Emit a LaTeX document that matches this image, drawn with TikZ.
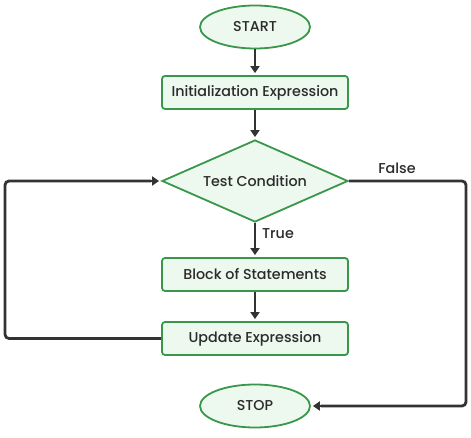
\documentclass[tikz,border=0pt]{standalone}
\usepackage{fontspec}
\setmainfont{Poppins Medium}
\usetikzlibrary{shapes.geometric,arrows.meta}
\definecolor{gborder}{HTML}{38974A}
\definecolor{gfill}{HTML}{EDF8EE}
\definecolor{arr}{HTML}{333333}
\definecolor{txt}{HTML}{2B2B2B}
\tikzset{
  lblfont/.style={font=\fontsize{14.3}{17}\selectfont},
  term/.style={ellipse,draw=gborder,fill=gfill,line width=1.8pt,minimum width=110pt,minimum height=43pt,inner sep=0pt,text=txt,lblfont},
  proc/.style={rectangle,rounded corners=3pt,draw=gborder,fill=gfill,line width=1.8pt,minimum width=186pt,minimum height=33pt,inner sep=0pt,text=txt,lblfont},
  dec/.style={diamond,aspect=2.27,draw=gborder,fill=gfill,line width=1.8pt,minimum width=186pt,minimum height=82pt,inner sep=0pt,text=txt,lblfont},
  conn/.style={draw=arr,line width=2.8pt,shorten >=2pt,-{Triangle[length=7pt,width=9pt]}},
  plain/.style={draw=arr,line width=2.8pt,rounded corners=4pt},
  lbl/.style={text=txt,lblfont}
}
\begin{document}
\begin{tikzpicture}[x=1pt,y=-1pt]
\useasboundingbox (0,0) rectangle (471,438);
\node[term] (start) at (255,27) {START};
\node[proc] (init) at (255,92.5) {Initialization Expression};
\node[dec] (test) at (255,181) {Test Condition};
\node[proc] (block) at (255,274.5) {Block of Statements};
\node[proc] (upd) at (255,338.5) {Update Expression};
\node[term] (stop) at (255,406) {STOP};
\coordinate (lt) at (5,181);
\coordinate (lb) at (5,338.5);
\coordinate (rt) at (466,181);
\coordinate (rb) at (466,406);
\draw[conn] (start) -- (init);
\draw[conn] (init) -- (test);
\draw[conn] (test) -- (block);
\draw[conn] (block) -- (upd);
\draw[plain] (upd.west) -- (lb) -- (lt) -- ([xshift=-10pt]test.west);
\draw[conn] ([xshift=-14pt]test.west) -- (test.west);
\draw[plain] (test.east) -- (rt) -- (rb) -- ([xshift=10pt]stop.east);
\draw[conn] ([xshift=14pt]stop.east) -- (stop.east);
\node[lbl] (tl) at (278,234) {True};
\node[lbl] (fl) at (397,168) {False};
\end{tikzpicture}
\end{document}
